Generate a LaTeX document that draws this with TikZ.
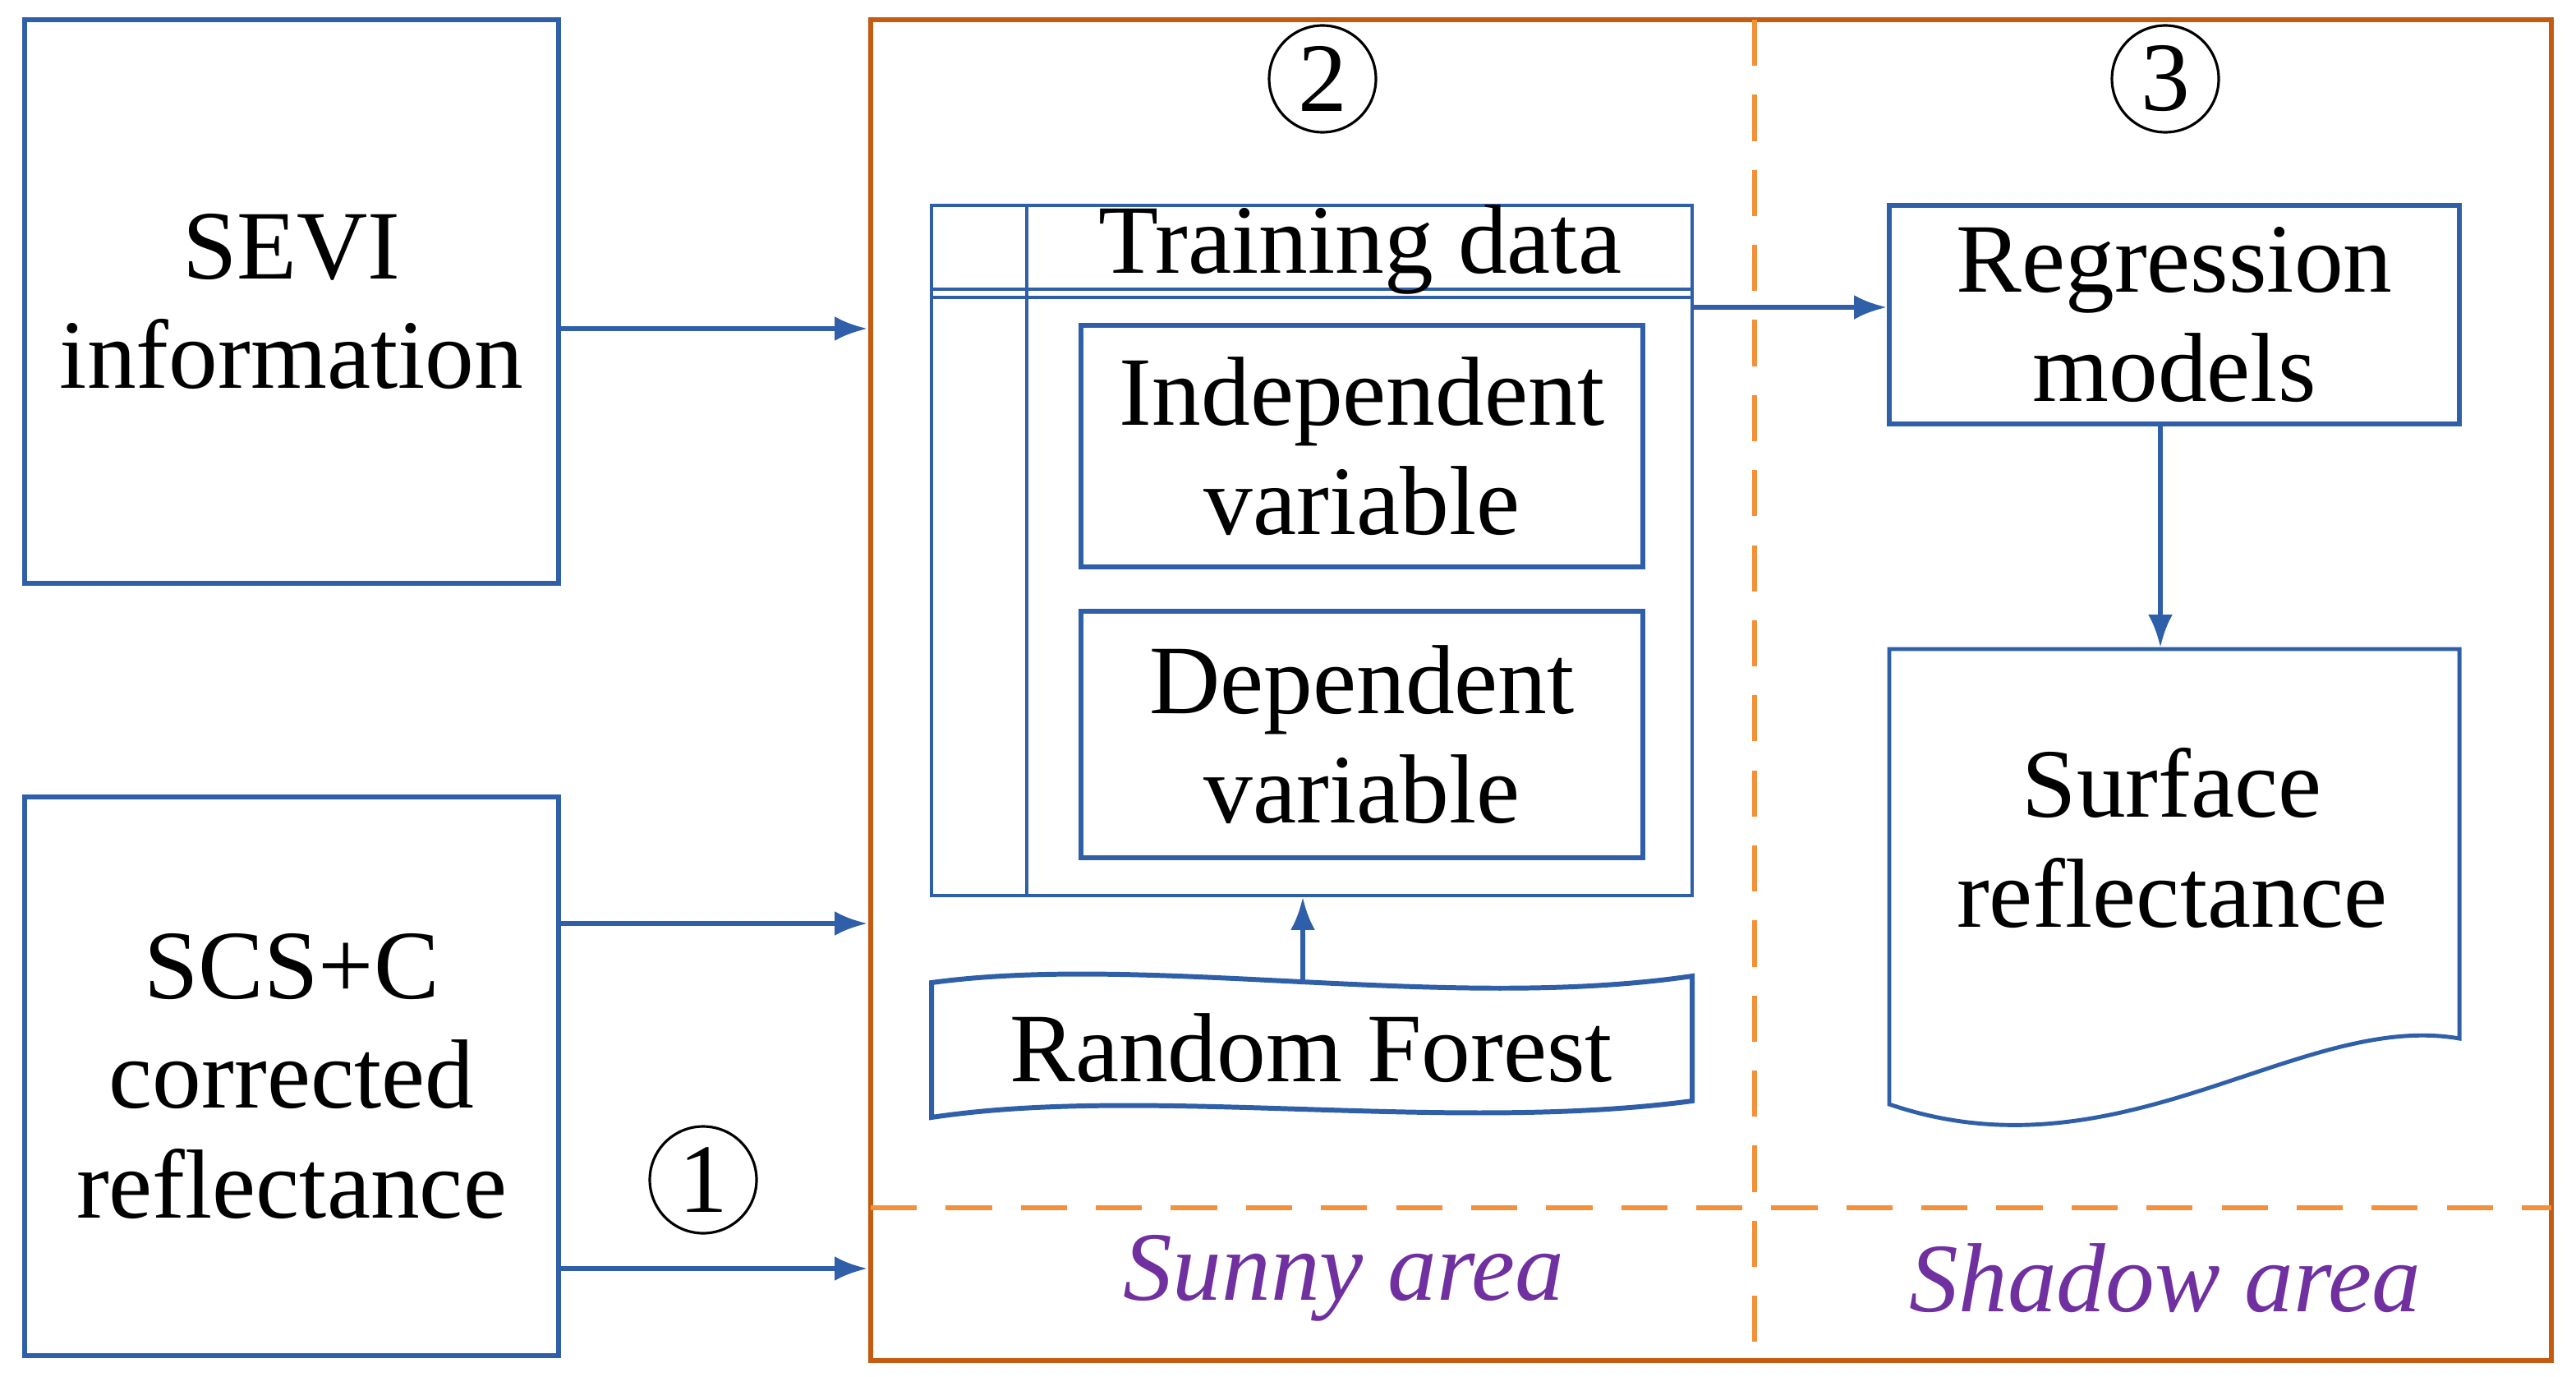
\documentclass[tikz,border=0pt]{standalone}
\usepackage{fontspec}
\setmainfont{Liberation Serif}
\usetikzlibrary{arrows.meta}
\definecolor{bl}{HTML}{2E5FA8}
\definecolor{orb}{HTML}{C55A11}
\definecolor{ord}{HTML}{F4903A}
\definecolor{pur}{HTML}{7030A0}
\tikzset{
  box/.style={draw=bl, line width=1.7pt, align=center, inner sep=0pt},
  arr/.style={-{Latex[length=4mm,width=3mm]}, draw=bl, line width=1.7pt},
  num/.style={draw, circle, line width=0.9pt, minimum size=1.3cm, inner sep=0pt, font=\fontsize{34}{36}\selectfont},
  lab/.style={font=\fontsize{34}{38}\selectfont\itshape, text=pur}
}
\begin{document}
\begin{tikzpicture}[x=0.02cm,y=-0.02cm,font=\fontsize{34}{38}\selectfont]
\useasboundingbox (0,0) rectangle (1568,838);
% outer frame
\draw[orb, line width=1.7pt] (530,12) rectangle (1553,828);
\draw[ord, line width=1.5pt, dash pattern=on 16pt off 10pt] (1068,12) -- (1068,828);
\draw[ord, line width=1.5pt, dash pattern=on 16pt off 10pt] (530,735) -- (1553,735);
\coordinate (f1) at (528,200);
\coordinate (f2) at (528,562);
\coordinate (f3) at (528,772);
% left inputs
\node[box, minimum width=325*0.02cm, minimum height=343*0.02cm] (sevi) at (177.5,183.5) {SEVI\\information};
\node[box, minimum width=325*0.02cm, minimum height=340*0.02cm] (scs) at (177.5,655) {SCS+C\\corrected\\reflectance};
\draw[arr] (sevi.east |- f1) -- (f1);
\draw[arr] (scs.east |- f2) -- (f2);
\draw[arr] (scs.east |- f3) -- (f3);
\node[num] (n1) at (428,718) {1};
\node[num] (n2) at (805,48) {2};
\node[num] (n3) at (1318,48) {3};
% training table
\node[draw=bl, line width=1.1pt, minimum width=463*0.02cm, minimum height=420*0.02cm, inner sep=0pt] (tab) at (798.5,335) {};
\draw[bl, line width=1.1pt] (567,176) -- (1030,176);
\draw[bl, line width=1.1pt] (567,181) -- (1030,181);
\draw[bl, line width=1.1pt] (625,125) -- (625,545);
\node (tr) at (828,152) {Training data};
\node[box, minimum width=342*0.02cm, minimum height=147*0.02cm] (ind) at (829,271.5) {Independent\\variable};
\node[box, minimum width=342*0.02cm, minimum height=150*0.02cm] (dep) at (829,447) {Dependent\\variable};
% random forest
\draw[bl, line width=1.7pt] (567,598) .. controls (700,580) and (880,616) .. (1030,594)
  -- (1030,670) .. controls (880,690) and (700,660) .. (567,680) -- cycle;
\node (rf) at (798,638) {Random Forest};
\coordinate (rft) at (793,596);
\draw[arr] (rft) -- (rft |- tab.south);
% regression
\node[box, minimum width=347*0.02cm, minimum height=133*0.02cm] (reg) at (1323.5,191.5) {Regression\\models};
\coordinate (ts) at (1030,187);
\draw[arr] (ts) -- (reg.west |- ts);
% surface reflectance
\draw[bl, line width=1.4pt] (1150,395) -- (1497,395) -- (1497,632)
  .. controls (1400,615) and (1290,720) .. (1150,672) -- cycle;
\node[align=center] (sr) at (1322,510) {Surface\\reflectance};
\coordinate (srt) at (1315,394);
\draw[arr] (reg.south -| srt) -- (srt);
% area labels
\node[lab] (sun) at (818,778) {Sunny area};
\node[lab] (sha) at (1318,778) {Shadow area};
\end{tikzpicture}
\end{document}
